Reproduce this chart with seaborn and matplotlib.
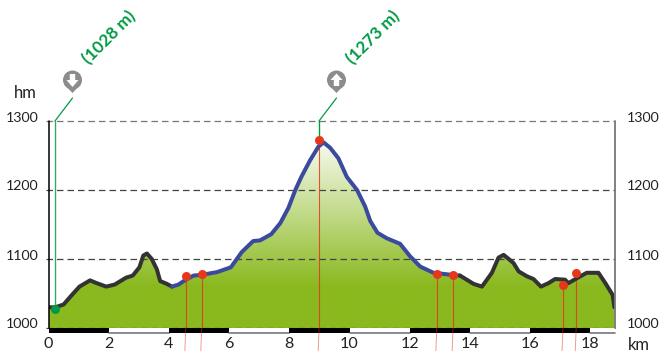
import numpy as np
import pandas as pd
import matplotlib
matplotlib.use("Agg")
import matplotlib.pyplot as plt
from matplotlib.colors import LinearSegmentedColormap
from matplotlib.patches import Circle, Polygon
from matplotlib.transforms import Affine2D
import seaborn as sns

km = [0, .22, .5, .78, 1.03, 1.38, 1.6, 1.92, 2.2, 2.58, 2.8, 3.02, 3.15, 3.27, 3.43, 3.6, 3.71, 3.93, 4.1,
      4.32, 4.56, 4.82, 5.09, 5.6, 6.06, 6.42, 6.8, 7.03, 7.4, 7.7, 7.97, 8.2, 8.4, 8.69, 8.97, 9.14, 9.36,
      9.63, 9.91, 10.25, 10.52, 10.69, 10.93, 11.24, 11.68, 12.01, 12.35, 12.79, 13.4, 13.67,
      14.12, 14.4, 14.73, 14.95, 15.12, 15.29, 15.45, 15.62, 15.89, 16.11, 16.36, 16.61, 16.83, 17.16,
      17.27, 17.55, 17.88, 18.27, 18.5, 18.74, 18.8]
elev = [1030, 1030, 1034, 1048, 1060, 1069, 1065, 1060, 1063, 1073, 1076, 1088, 1105, 1108, 1100, 1085, 1068, 1064, 1060,
        1063, 1070, 1076, 1077, 1081, 1088, 1110, 1126, 1127, 1136, 1152, 1174, 1200, 1219, 1243, 1263, 1269, 1261,
        1246, 1219, 1200, 1176, 1155, 1138, 1130, 1122, 1104, 1089, 1080, 1077, 1076,
        1064, 1060, 1080, 1102, 1106, 1100, 1094, 1082, 1075, 1071, 1060, 1065, 1071, 1070,
        1065, 1072, 1080, 1080, 1065, 1048, 1030]
climb_start_km = 4.1
climb_end_km = 13.67
red_km = [4.56, 5.09, 8.99, 12.9, 13.44, 17.09, 17.53]
red_elev = [1076, 1078, 1272, 1078, 1077, 1062, 1080]
low_km = [0.22]
low_elev = [1028]
y_ticks = [1000, 1100, 1200, 1300]
x_ticks = list(range(0, 20, 2))
label_low = "(1028 m)"
label_high = "(1273 m)"

W, H = 670, 356
sns.set_theme(style="white")
plt.rcParams["font.family"] = ["Lato", "DejaVu Sans"]
fig = plt.figure(figsize=(W / 100, H / 100), dpi=100)
L, R, T, B = 48.5, 615, 121, 328
ax = fig.add_axes([L / W, (H - B) / H, (R - L) / W, (B - T) / H])
XMAX = 18.82
px = Affine2D().scale(1 / W, -1 / H).translate(0, 1) + fig.transFigure
below = ax.get_xaxis_transform()

df = pd.DataFrame({"km": km, "elev": elev})
GREEN, RED, BLUE, DARK = "#009a44", "#e8361a", "#3a4b9e", "#333333"

# gradient fill
poly = ax.fill_between(df.km, 1000, df.elev, color="none", lw=0)
cmap = LinearSegmentedColormap.from_list("g", [(0, "#ffffff"), (1, "#8ab91f")])
grad = np.clip((1285 - np.linspace(1300, 1000, 300)) / (1285 - 1060), 0, 1).reshape(-1, 1)
im = ax.imshow(grad, extent=[0, XMAX, 1000, 1300], aspect="auto", cmap=cmap, vmin=0, vmax=1, zorder=1)
im.set_clip_path(poly.get_paths()[0], transform=ax.transData)

# grid
for t in y_ticks:
    c = "#777777" if t == 1300 else "#444444"
    ax.plot([-.08, XMAX], [t, t], color=c, lw=0.9, dashes=(5.2, 3.2), clip_on=False, zorder=2)

# profile
segs = [df[df.km <= climb_start_km], df[(df.km >= climb_start_km) & (df.km <= climb_end_km)], df[df.km >= climb_end_km]]
for s, c in zip(segs, [DARK, BLUE, DARK]):
    sns.lineplot(data=s, x="km", y="elev", color=c, lw=2.9, ax=ax, sort=False, estimator=None,
                 legend=False, zorder=4, solid_capstyle="round", solid_joinstyle="round")

# distance bar
for start in range(0, 20, 2):
    end = min(start + 2, XMAX)
    black = (start // 2) % 2 == 0
    ax.fill_between([start, end], [0, 0], [-0.024, -0.024], transform=below, clip_on=False, zorder=3,
                    color="black" if black else "white", lw=0)
    if not black:
        ax.plot([start, end], [-0.026, -0.026], transform=below, clip_on=False, color="#777777", lw=1.2, zorder=3)

# axes
ax.plot([0, 0], [1000, 1300], color="black", lw=1.1, clip_on=False, zorder=5)
ax.plot([XMAX, XMAX], [1000, 1300], color="#777777", lw=1.3, clip_on=False, zorder=5)

# way-point drop lines
for x, y in zip(red_km, red_elev):
    ax.plot([x, x], [y, 1000], color=RED, lw=0.8, alpha=0.85, zorder=3.5)
    ax.plot([x, x - 0.03], [0, -0.11], transform=below, color=RED, lw=0.7, alpha=0.5, clip_on=False, zorder=3.5)
sns.scatterplot(x=red_km, y=red_elev, color=RED, s=42, linewidth=0, ax=ax, zorder=6, clip_on=False)

# lowest / highest leaders
ax.plot([low_km[0]] * 2, [low_elev[0], 1300], color="#3aa566", lw=1.0, zorder=3.5)
sns.scatterplot(x=low_km, y=low_elev, color=GREEN, s=42, linewidth=0, ax=ax, zorder=6, clip_on=False)
ax.plot([red_km[2]] * 2, [red_elev[2], 1300], color=GREEN, lw=1.0, zorder=3.5)
PIN = "#8c8c8c"
for x0, tx, up, lab, lx in [(55, 72.5, False, label_low, 109.5), (319, 336.5, True, label_high, 373.5)]:
    fig.add_artist(plt.Line2D([x0, tx], [121, 98], color=GREEN, lw=0.9, transform=px))
    fig.add_artist(Circle((tx, 80), 9.5, color=PIN, lw=0, transform=px))
    fig.add_artist(Polygon([(tx - 8.6, 84), (tx + 8.6, 84), (tx, 93)], color=PIN, lw=0, transform=px))
    if up:
        arrow = [(tx, 73.5), (tx + 6, 80), (tx + 2.7, 80), (tx + 2.7, 86), (tx - 2.7, 86), (tx - 2.7, 80), (tx - 6, 80)]
    else:
        arrow = [(tx, 87), (tx + 6, 80), (tx + 2.7, 80), (tx + 2.7, 74), (tx - 2.7, 74), (tx - 2.7, 80), (tx - 6, 80)]
    fig.add_artist(Polygon(arrow, color="white", lw=0, transform=px))
    fig.text(lx, 38, lab, transform=px, rotation=45, ha="center", va="center", color=GREEN,
             fontsize=12.3, fontweight="bold", rotation_mode="anchor")

# text
TXT = "#222222"
for t in y_ticks:
    py = B - (t - 1000) * (B - T) / 300
    fig.text(22.5, py - 3.5, str(t), transform=px, ha="center", va="center", fontsize=10.2, color=TXT)
    fig.text(643, py - 3.5, str(t), transform=px, ha="center", va="center", fontsize=10.2, color=TXT)
for t in x_ticks:
    fig.text(L + t * 30.1, 344.5, str(t), transform=px, ha="center", va="center", fontsize=11.6, color=TXT)
fig.text(25, 93, "hm", transform=px, ha="center", va="center", fontsize=12, color=TXT)
fig.text(638.5, 344.5, "km", transform=px, ha="center", va="center", fontsize=12, color=TXT)

ax.set_xlim(0, XMAX)
ax.set_ylim(1000, 1300)
ax.set_xticks([]); ax.set_yticks([])
ax.set_xlabel(""); ax.set_ylabel("")
ax.patch.set_alpha(0)
sns.despine(ax=ax, left=True, bottom=True)
fig.savefig("out.png", dpi=100)
